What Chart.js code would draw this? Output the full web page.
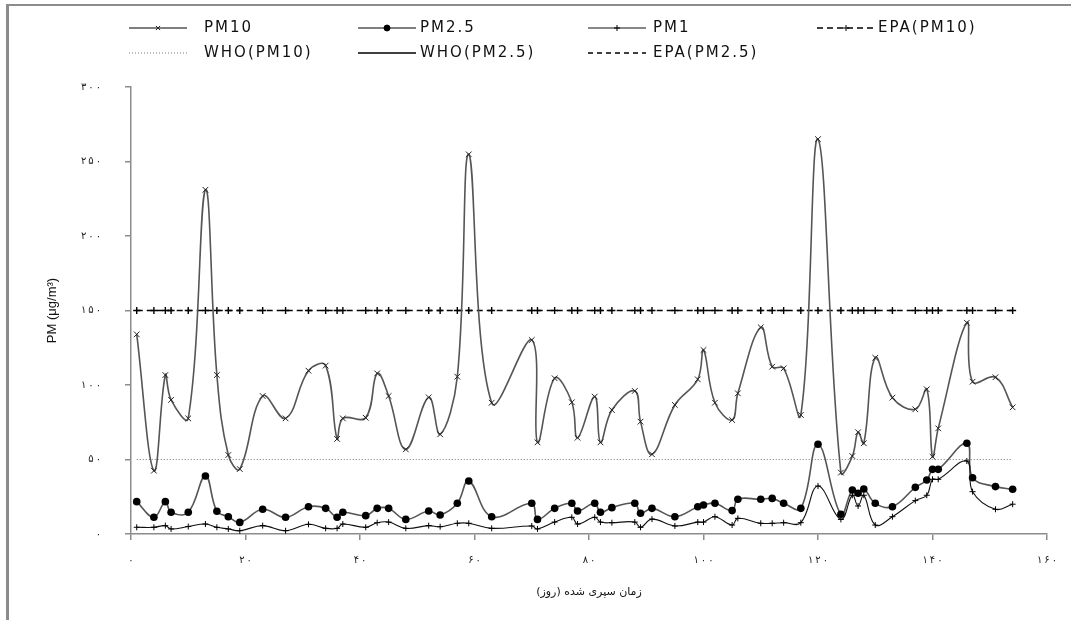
<!DOCTYPE html>
<html>
<head>
<meta charset="utf-8">
<script src="https://cdn.jsdelivr.net/npm/chart.js@4.4.1/dist/chart.umd.min.js"></script>
<style>
  html, body { margin: 0; padding: 0; background: #fff; }
  #wrap { position: relative; width: 1075px; height: 620px; overflow: hidden; }
  #frame { position: absolute; left: 6px; top: 4px; width: 1062px; height: 640px;
           border-top: 2px solid #8c8c8c; border-left: 3px solid #8c8c8c; pointer-events: none; }
  canvas { position: absolute; left: 0; top: 0; }
</style>
</head>
<body>
<div id="wrap">
  <canvas id="c" width="1075" height="620"></canvas>
  <div id="frame"></div>
</div>
<script>
// ---- Data ----
const days = [1,4,6,7,10,13,15,17,19,23,27,31,34,36,37,41,43,45,48,52,54,57,59,63,70,71,74,77,78,81,82,84,88,89,91,95,99,100,102,105,106,110,112,114,117,120,124,126,127,128,130,133,137,139,140,141,146,147,151,154];
const pm10 = [134,42.5,106.7,90,77.6,231,106.7,53,43.6,92.6,77.6,109.6,113,63.8,77.6,78,107.8,92.6,56.8,91.7,66.9,105.6,254.8,88.1,130.2,61.5,104.5,88.4,64.6,92.2,61.5,83.2,96,75.4,53.5,86.6,103.8,123.5,88.1,76.5,94.4,138.7,112.3,111.2,79.9,265,41.2,52.3,68.3,60.9,118.3,91.5,83.7,97.1,51.9,70.9,141.8,102.2,105.2,85];
const pm25 = [21.7,11.2,21.7,14.6,14.6,38.9,15.3,11.6,7.8,16.6,11.2,18.3,17.2,11.2,14.6,12.3,17.2,17.2,9.8,15.4,12.8,20.6,35.6,11.6,20.6,9.8,17.2,20.6,15.4,20.6,14.6,17.7,20.6,13.9,17.2,11.6,18.3,19.5,20.6,15.7,23.3,23.3,23.9,20.6,17.2,60.2,13.2,29.5,27.3,30.2,20.6,18.3,31.3,36.2,43.4,43.4,60.9,37.8,31.8,30];
const pm1 = [4.5,4.5,5.6,3.4,5.0,6.7,4.5,3.4,2.2,5.6,2.2,6.5,3.8,3.8,6.7,4.5,7.6,8,3.8,5.6,4.9,7.2,7.2,3.8,5.4,3.4,8,11.2,6.7,11.2,8,7.6,8,4.5,10,5.4,8,8,11.6,6,10.5,7.2,7.2,7.6,7.6,32.2,9.8,26,18.8,26,6,11.6,22.4,26,36.7,36.7,49,28.4,16.6,20];
const epaPM10 = 150;   // EPA standard for PM10
const whoPM10 = 50;    // WHO guideline for PM10
const seriesLabels = ['PM10','PM2.5','PM1','EPA(PM10)','WHO(PM10)','WHO(PM2.5)','EPA(PM2.5)'];
const xAxisTitle = 'زمان سپری شده (روز)';
const yAxisTitle = 'PM (μg/m³)';

const faDigits = '۰۱۲۳۴۵۶۷۸۹';
function toFa(n) {
  return String(n).split('').map(ch => /[0-9]/.test(ch) ? faDigits[+ch] : ch).join('\u2009');
}
const pts = arr => days.map((d, i) => ({x: d, y: arr[i]}));
const constPts = v => days.map(d => ({x: d, y: v}));

const datasets = [
  { label: seriesLabels[0], data: pts(pm10), borderColor: '#555', borderWidth: 1.6, tension: 0.4,
    pointStyle: 'crossRot', pointRadius: 4, pointBorderColor: '#222', pointBorderWidth: 1, pointBackgroundColor: '#222', order: 3 },
  { label: seriesLabels[1], data: pts(pm25), borderColor: '#555', borderWidth: 1.6, tension: 0.4,
    pointStyle: 'circle', pointRadius: 3.8, pointBorderColor: '#000', pointBackgroundColor: '#000', pointBorderWidth: 0, order: 2 },
  { label: seriesLabels[2], data: pts(pm1), borderColor: '#111', borderWidth: 1.1, tension: 0.4,
    pointStyle: 'cross', pointRadius: 3, pointBorderColor: '#000', pointBorderWidth: 1, order: 1 },
  { label: seriesLabels[3], data: constPts(epaPM10), borderColor: '#000', borderWidth: 1.4, borderDash: [6, 4], tension: 0,
    pointStyle: 'cross', pointRadius: 3.5, pointBorderColor: '#000', pointBorderWidth: 1.4, order: 4 },
  { label: seriesLabels[4], data: constPts(whoPM10), borderColor: '#777', borderWidth: 1, borderDash: [1, 2], tension: 0,
    pointRadius: 0, order: 5 },
  { label: seriesLabels[5], data: [], borderColor: '#000', borderWidth: 1.4, pointRadius: 0 },
  { label: seriesLabels[6], data: [], borderColor: '#000', borderWidth: 1.4, borderDash: [5, 4], pointRadius: 0 }
];

// Custom grid-style legend (4 columns, 2 rows) drawn from dataset styles
const legendGrid = {
  id: 'legendGrid',
  afterDraw(chart) {
    const ctx = chart.ctx;
    const lineX = [129, 358, 588, 817];
    const textX = [204, 420, 653, 878];
    const rowY = [28, 53];
    const lineLen = 58;
    chart.data.datasets.forEach((ds, i) => {
      const col = i < 4 ? i : i - 4;
      const row = i < 4 ? 0 : 1;
      const x0 = lineX[col], y = rowY[row];
      ctx.save();
      ctx.strokeStyle = ds.borderColor;
      ctx.lineWidth = Math.min(ds.borderWidth, 1.3);
      ctx.setLineDash(ds.borderDash || []);
      ctx.beginPath(); ctx.moveTo(x0, y); ctx.lineTo(x0 + lineLen, y); ctx.stroke();
      ctx.setLineDash([]);
      if (ds.pointRadius > 0) {
        ctx.fillStyle = ds.pointBackgroundColor || '#000';
        ctx.strokeStyle = ds.pointBorderColor || '#000';
        ctx.lineWidth = 1;
        Chart.helpers.drawPoint(ctx, {pointStyle: ds.pointStyle, radius: 3, borderWidth: 1, rotation: 0}, x0 + lineLen / 2, y);
      }
      ctx.fillStyle = '#111';
      ctx.font = '15px "DejaVu Sans"';
      try { ctx.letterSpacing = '2px'; } catch (e) {}
      ctx.textBaseline = 'middle';
      ctx.textAlign = 'left';
      ctx.fillText(ds.label, textX[col], y);
      ctx.restore();
    });
  }
};

new Chart(document.getElementById('c'), {
  type: 'line',
  data: { datasets },
  plugins: [legendGrid],
  options: {
    responsive: false,
    animation: false,
    devicePixelRatio: 1,
    layout: { padding: { left: 0, right: 28, top: 87, bottom: 0 } },
    plugins: { legend: { display: false }, tooltip: { enabled: false } },
    scales: {
      x: {
        type: 'linear', min: 0, max: 160,
        ticks: { stepSize: 20, color: '#222', padding: 14, maxRotation: 0,
                 font: { family: 'DejaVu Sans', size: 10 }, callback: v => toFa(v) },
        grid: { display: true, drawOnChartArea: false, drawTicks: true, tickLength: 6, color: '#8c8c8c', lineWidth: 1.5 },
        border: { color: '#8c8c8c', width: 1.5 },
        title: { display: true, text: xAxisTitle, color: '#111', font: { family: 'DejaVu Sans', size: 11 },
                 padding: { top: 0, bottom: 21 } },
        afterFit: s => { s.height = 86; }
      },
      y: {
        min: 0, max: 300,
        ticks: { stepSize: 50, color: '#222', padding: 24,
                 font: { family: 'DejaVu Sans', size: 10 }, callback: v => toFa(v) },
        grid: { display: true, drawOnChartArea: false, drawTicks: true, tickLength: 6, color: '#8c8c8c', lineWidth: 1.5 },
        border: { color: '#8c8c8c', width: 1.5 },
        title: { display: true, text: yAxisTitle, color: '#111', font: { family: 'Liberation Sans', size: 13 },
                 padding: { top: 45, bottom: 0 } },
        afterFit: s => { s.width = 131; }
      }
    }
  }
});
</script>
</body>
</html>
